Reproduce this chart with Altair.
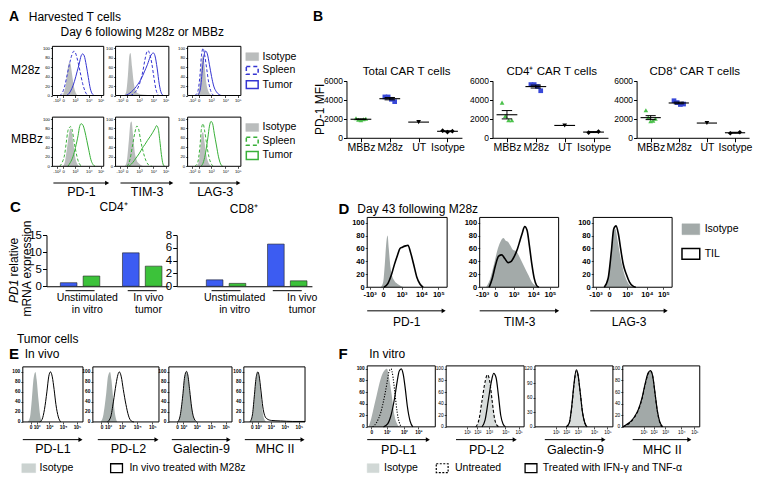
import altair as alt
import numpy as np
import pandas as pd

FONT = "Liberation Sans"
W, H = 748, 469
KX = W / 758.0
KY = H / 477.0


def PX(x):
    return (x - 4) * KX


def PY(y):
    return (y - 4) * KY


ONE = pd.DataFrame({"k": [0]})
LAYERS = []

# ---------------- colours ----------------
BLUE_LINE = "#3535d2"
GREEN_LINE = "#38b038"
BAR_BLUE = "#3c5cf2"
BAR_GREEN = "#3cc23a"
PT_BLUE = "#3848d8"
PT_GREEN = "#4cc24c"
GRAY_A = "#babdbd"
GRAY_D = "#a3aaa9"
GRAY_E = "#a9b1af"
GRAY_F1 = "#a8aead"
GRAY_FL = "#d9dddc"
GRAY_F4 = "#a2a9a8"

# ---------------- data: panel A (x = % of plot width, y = % of max) ----------------
A_M28Z_PD1_ISO = [(18, 0), (22, 6), (26, 22), (29, 50), (31, 64), (33, 70), (35, 68), (37, 55), (40, 32), (43, 14), (46, 5), (50, 0)]
A_M28Z_PD1_SPL = [(14, 0), (19, 5), (24, 20), (29, 45), (34, 70), (38, 86), (42, 94), (45, 90), (49, 75), (54, 50), (59, 25), (64, 8), (69, 0)]
A_M28Z_PD1_TUM = [(28, 0), (33, 5), (38, 15), (43, 30), (48, 50), (52, 66), (56, 84), (59, 88), (62, 84), (66, 64), (70, 38), (74, 14), (78, 3), (82, 0)]
A_M28Z_TIM_ISO = [(16, 0), (20, 8), (23, 40), (26, 85), (28, 90), (31, 60), (34, 28), (38, 10), (43, 4), (50, 2), (60, 1), (70, 0)]
A_M28Z_TIM_SPL = [(28, 0), (34, 4), (40, 12), (46, 28), (51, 50), (55, 75), (58, 90), (61, 95), (64, 88), (68, 68), (72, 38), (76, 12), (81, 0)]
A_M28Z_TIM_TUM = [(18, 0), (24, 3), (30, 8), (36, 15), (42, 24), (48, 35), (54, 50), (60, 66), (65, 82), (68, 88), (71, 90), (74, 84), (78, 58), (82, 24), (86, 5), (90, 0)]
A_M28Z_LAG_ISO = [(17, 0), (21, 10), (24, 42), (27, 78), (29, 85), (32, 62), (35, 28), (39, 9), (43, 2), (48, 0)]
A_M28Z_LAG_SPL = [(14, 0), (19, 8), (23, 40), (26, 84), (29, 100), (32, 86), (36, 55), (40, 25), (44, 8), (49, 0)]
A_M28Z_LAG_TUM = [(19, 0), (24, 14), (28, 58), (31, 86), (34, 94), (37, 88), (41, 65), (45, 40), (49, 20), (54, 8), (59, 2), (64, 0)]

A_MBBZ_PD1_ISO = [(20, 0), (24, 8), (28, 35), (32, 66), (35, 80), (38, 72), (41, 48), (44, 22), (48, 6), (53, 0)]
A_MBBZ_PD1_SPL = [(14, 0), (19, 8), (24, 26), (27, 50), (30, 74), (33, 82), (36, 84), (39, 74), (42, 54), (46, 30), (50, 12), (54, 3), (59, 0)]
A_MBBZ_PD1_TUM = [(30, 0), (35, 8), (40, 20), (45, 40), (50, 65), (53, 84), (56, 90), (59, 88), (63, 75), (67, 55), (71, 34), (75, 14), (79, 4), (83, 0)]
A_MBBZ_TIM_ISO = [(17, 0), (21, 10), (25, 55), (28, 92), (30, 95), (33, 65), (36, 30), (40, 12), (44, 6), (48, 2), (55, 0)]
A_MBBZ_TIM_SPL = [(22, 0), (27, 14), (32, 45), (36, 70), (40, 85), (43, 80), (47, 55), (52, 30), (57, 12), (62, 3), (68, 0)]
A_MBBZ_TIM_TUM = [(25, 0), (30, 5), (35, 12), (40, 20), (45, 28), (50, 38), (55, 46), (60, 55), (65, 63), (70, 72), (74, 80), (77, 86), (80, 80), (83, 55), (86, 25), (89, 5), (92, 0)]
A_MBBZ_LAG_ISO = [(17, 0), (21, 10), (24, 40), (27, 70), (29, 72), (32, 50), (35, 25), (39, 8), (43, 2), (47, 0)]
A_MBBZ_LAG_SPL = [(14, 0), (19, 8), (23, 40), (26, 80), (29, 90), (32, 75), (36, 45), (40, 20), (44, 6), (49, 0)]
A_MBBZ_LAG_TUM = [(25, 0), (30, 10), (34, 30), (38, 60), (41, 85), (44, 95), (47, 90), (50, 70), (54, 45), (58, 20), (62, 5), (66, 0)]

A_XTICKS = [(8, "-10³"), (21, "0"), (44, "10³"), (71, "10⁴"), (94, "10⁵")]
A_YTICKS = [0, 20, 40, 60, 80, 100]
A_MARKERS = ["PD-1", "TIM-3", "LAG-3"]

# ---------------- data: panel B (PD-1 MFI) ----------------
B_CATS = ["MBBz", "M28z", "UT", "Isotype"]
B_TOTAL_MBBZ = [2050, 1900, 1850, 1950, 2000]
B_TOTAL_M28Z = [4300, 4300, 4050, 3800]
B_TOTAL_UT = [1650]
B_TOTAL_ISO = [750, 600, 700]
B_CD4_MBBZ = [3700, 2300, 1850, 1850]
B_CD4_M28Z = [5600, 5600, 5400, 4950]
B_CD4_UT = [1300]
B_CD4_ISO = [550, 650]
B_CD8_MBBZ = [2900, 2150, 1750, 1800, 2000]
B_CD8_M28Z = [3900, 3700, 3500, 3550]
B_CD8_UT = [1550]
B_CD8_ISO = [480, 580]
B_TITLES = ["Total CAR T cells", "CD4⁺ CAR T cells", "CD8⁺ CAR T cells"]

# ---------------- data: panel C (PD1 relative mRNA expression) ----------------
C_GROUPS = ["Unstimulated in vitro", "In vivo tumor"]
C_SERIES = ["M28z TIL", "MBBz TIL"]
C_CD4_M28Z = [1.05, 9.8]
C_CD4_MBBZ = [3.0, 5.9]
C_CD8_M28Z = [1.0, 6.6]
C_CD8_MBBZ = [0.45, 0.85]

# ---------------- data: panel D ----------------
D_PD1_ISO = [(17, 0), (20, 8), (22, 35), (24, 70), (25.5, 80), (27, 60), (29, 32), (31, 18), (34, 10), (38, 5), (42, 2), (46, 0)]
D_PD1_TIL = [(21, 0), (26, 6), (30, 18), (34, 35), (38, 50), (41, 60), (44, 62), (48, 64), (51, 65), (54, 55), (58, 36), (62, 16), (66, 5), (70, 0)]
D_TIM_ISO = [(8, 0), (13, 12), (18, 35), (23, 60), (27, 72), (30, 76), (33, 72), (36, 70), (39, 64), (42, 58), (46, 56), (50, 48), (54, 38), (58, 28), (62, 18), (66, 8), (70, 3), (74, 0)]
D_TIM_TIL = [(12, 0), (16, 14), (20, 34), (24, 48), (28, 50), (32, 44), (36, 38), (40, 40), (44, 48), (48, 60), (51, 72), (54, 84), (57, 94), (60, 88), (63, 64), (66, 36), (69, 14), (72, 3), (75, 0)]
D_LAG_ISO = [(14, 0), (18, 10), (22, 45), (25, 82), (28, 90), (31, 72), (34, 50), (37, 32), (40, 18), (44, 7), (48, 2), (52, 0)]
D_LAG_TIL = [(14, 0), (19, 14), (23, 55), (26, 90), (29, 95), (32, 82), (35, 58), (38, 36), (42, 20), (46, 8), (50, 2), (54, 0)]
D_XTICKS = [(3, "-10³"), (20, "0"), (43, "10³"), (68, "10⁴"), (89, "10⁵")]
D_YTICKS = [0, 20, 40, 60, 80, 100]

# ---------------- data: panel E ----------------
E_PDL1_ISO = [(8, 0), (12, 10), (15, 45), (18, 88), (21, 100), (23, 85), (26, 45), (29, 12), (32, 0)]
E_PDL1_TRT = [(28, 0), (32, 5), (36, 25), (40, 60), (43, 90), (46, 100), (49, 90), (52, 65), (55, 35), (59, 10), (63, 0)]
E_PDL2_ISO = [(12, 0), (16, 15), (20, 55), (23, 92), (26, 100), (28, 85), (31, 45), (34, 12), (37, 0)]
E_PDL2_TRT = [(22, 0), (27, 10), (31, 40), (35, 75), (38, 95), (40, 100), (43, 90), (46, 65), (50, 35), (54, 12), (58, 2), (62, 0)]
E_GAL_ISO = [(14, 0), (18, 12), (22, 50), (25, 88), (28, 100), (30, 92), (33, 60), (36, 28), (39, 8), (43, 0)]
E_GAL_TRT = [(14, 0), (18, 13), (22, 52), (25, 90), (28, 101), (30, 94), (33, 63), (36, 30), (39, 10), (44, 0)]
E_MHC_ISO = [(10, 0), (14, 12), (17, 45), (20, 85), (23, 100), (25, 88), (28, 52), (31, 18), (34, 4), (37, 0)]
E_MHC_TRT = [(10, 0), (14, 14), (17, 50), (20, 88), (23, 100), (25, 92), (28, 62), (31, 30), (34, 13), (38, 6), (45, 3), (60, 2), (80, 1), (100, 1)]
E_XTICKS = [(13, "0"), (23, "10²"), (44, "10³"), (67, "10⁴"), (90, "10⁵")]
E_YTICKS = [0, 20, 40, 60, 80, 100]
E_MARKERS = ["PD-L1", "PD-L2", "Galectin-9", "MHC II"]

# ---------------- data: panel F ----------------
F_PDL1_ISO = [(2, 0), (6, 15), (10, 35), (14, 55), (18, 75), (22, 90), (26, 98), (29, 100), (32, 85), (36, 55), (40, 20), (44, 5), (48, 0)]
F_PDL1_UNT = [(8, 0), (14, 8), (20, 25), (25, 50), (29, 75), (32, 95), (35, 100), (38, 85), (41, 55), (44, 25), (47, 8), (50, 0)]
F_PDL1_TRT = [(24, 0), (30, 5), (35, 20), (40, 48), (44, 78), (47, 96), (50, 100), (53, 90), (56, 65), (59, 35), (63, 10), (67, 0)]
F_PDL2_ISO = [(38, 0), (42, 10), (46, 40), (50, 75), (53, 88), (56, 80), (59, 50), (62, 20), (65, 5), (68, 0)]
F_PDL2_UNT = [(38, 0), (42, 12), (46, 45), (50, 78), (53, 90), (56, 78), (59, 45), (62, 15), (65, 3), (68, 0)]
F_PDL2_TRT = [(46, 0), (50, 12), (54, 45), (58, 78), (61, 92), (64, 85), (67, 55), (70, 20), (73, 5), (76, 0)]
F_GAL_ISO = [(40, 0), (44, 8), (47, 35), (50, 80), (53, 110), (55, 105), (58, 70), (61, 30), (64, 8), (67, 0)]
F_GAL_UNT = [(40, 0), (44, 8), (47, 38), (50, 85), (53, 115), (55, 108), (58, 72), (61, 30), (64, 8), (67, 0)]
F_GAL_TRT = [(40, 0), (44, 8), (47, 40), (50, 88), (53, 118), (55, 110), (58, 72), (61, 30), (64, 8), (67, 0)]
F_MHC_ISO = [(0, 0), (5, 3), (10, 8), (15, 15), (20, 26), (25, 46), (29, 70), (33, 90), (36, 95), (39, 85), (42, 55), (45, 25), (48, 8), (51, 0)]
F_MHC_UNT = [(0, 0), (5, 3), (10, 8), (15, 16), (20, 28), (25, 48), (29, 72), (33, 92), (36, 96), (39, 86), (42, 56), (45, 26), (48, 8), (51, 0)]
F_MHC_TRT = [(0, 0), (5, 4), (10, 9), (15, 17), (20, 29), (25, 50), (29, 74), (33, 93), (36, 97), (39, 87), (42, 57), (45, 27), (48, 9), (52, 0)]
F1_XTICKS = [(6, "0"), (29, "10¹"), (54, "10²"), (75, "10³")]
F_XTICKS = [(27, "10¹"), (40, "10²"), (55, "10³"), (76, "10⁴"), (93, "10⁵")]
F_YTICKS = [0, 20, 40, 60, 80, 100]
F_GAL_YTICKS = [0, 30, 60, 90, 120]


# ---------------- helpers ----------------
def text(x, y, s, size=12.0, weight="normal", align="left", angle=0, style="normal"):
    LAYERS.append(
        alt.Chart(ONE)
        .mark_text(text=s, font=FONT, fontSize=size, fontWeight=weight, fontStyle=style,
                   align=align, baseline="middle", angle=angle, color="black")
        .encode(x=alt.value(PX(x)), y=alt.value(PY(y)))
    )


def swatch(x0, x1, yc, h, fill="white", stroke="black", dash=None, sw=1.0, fill_opacity=1.0):
    kw = dict(fill=fill, fillOpacity=fill_opacity, stroke=stroke, strokeWidth=sw)
    if dash:
        kw["strokeDash"] = dash
    LAYERS.append(
        alt.Chart(ONE).mark_rect(**kw).encode(
            x=alt.value(PX(x0)), x2=alt.value(PX(x1)),
            y=alt.value(PY(yc - h / 2.0)), y2=alt.value(PY(yc + h / 2.0)))
    )


def arrow(x0, x1, y):
    LAYERS.append(
        alt.Chart(ONE).mark_rule(color="black", strokeWidth=1).encode(
            x=alt.value(PX(x0)), x2=alt.value(PX(x1) - 3), y=alt.value(PY(y)))
    )
    LAYERS.append(
        alt.Chart(ONE).mark_point(shape="triangle-right", filled=True, color="black", size=22, opacity=1).encode(
            x=alt.value(PX(x1) - 2.5), y=alt.value(PY(y)))
    )


def tick_expr(ticks):
    e = "''"
    for v, s in reversed(ticks):
        e = "datum.value == %s ? '%s' : (%s)" % (v, s, e)
    return e


def hist(box, ymax, xticks, yticks, curves, fs=4.5, bold=False):
    x0, y0, x1, y1 = box
    xs = alt.Scale(domain=[0, 100], range=[PX(x0), PX(x1)], nice=False, zero=False)
    ys = alt.Scale(domain=[0, ymax], range=[PY(y1), PY(y0)], nice=False, zero=False)
    for c in curves:
        df = pd.DataFrame(c["pts"], columns=["x", "y"])
        if c["kind"] == "area":
            m = alt.Chart(df).mark_area(color=c["color"], opacity=1, interpolate="monotone")
        else:
            kw = dict(color=c["color"], strokeWidth=c.get("w", 1.0), interpolate="monotone")
            if c.get("dash"):
                kw["strokeDash"] = c["dash"]
            m = alt.Chart(df).mark_line(**kw)
        LAYERS.append(m.encode(x=alt.X("x:Q", scale=xs, axis=None),
                               y=alt.Y("y:Q", scale=ys, axis=None)))
    weight = "bold" if bold else "normal"
    xaxis = alt.Axis(orient="bottom", offset=PY(y1) - H, values=[v for v, _ in xticks],
                     labelExpr=tick_expr(xticks), title=None, grid=False, domain=False,
                     tickSize=2, tickWidth=0.7, tickColor="black", labelColor="black",
                     labelFont=FONT, labelFontSize=fs, labelFontWeight=weight,
                     labelPadding=1, labelOverlap=False, labelFlush=False)
    yaxis = alt.Axis(orient="left", offset=-PX(x0), values=yticks, title=None, grid=False,
                     domain=False, tickSize=2, tickWidth=0.7, tickColor="black",
                     labelColor="black", labelFont=FONT, labelFontSize=fs,
                     labelFontWeight=weight, labelPadding=1, labelOverlap=False,
                     labelFlush=False, format="d")
    fr = pd.DataFrame({"a": [0], "b": [100], "c": [0], "d": [ymax]})
    LAYERS.append(
        alt.Chart(fr).mark_rect(fill="white", fillOpacity=0, stroke="black", strokeWidth=1).encode(
            x=alt.X("a:Q", scale=xs, axis=xaxis), x2="b",
            y=alt.Y("c:Q", scale=ys, axis=yaxis), y2="d")
    )


def A_(pts):
    return {"kind": "area", "pts": pts, "color": GRAY_A}


def L_(pts, color, dash=None, w=1.0):
    return {"kind": "line", "pts": pts, "color": color, "dash": dash, "w": w}


# ================= Panel A =================
text(5, 13, "A", size=14, weight="bold")
text(25, 13, "Harvested T cells", size=12)
text(140, 28, "Day 6 following M28z or MBBz", size=12, align="center")
text(7, 67, "M28z", size=12)
text(7, 137, "MBBz", size=12)

A_COLS = [(49, 101), (113, 167), (186, 240)]
A_ROWS = [(43, 93), (115, 165)]
A_DATA = [
    [(A_M28Z_PD1_ISO, A_M28Z_PD1_SPL, A_M28Z_PD1_TUM),
     (A_M28Z_TIM_ISO, A_M28Z_TIM_SPL, A_M28Z_TIM_TUM),
     (A_M28Z_LAG_ISO, A_M28Z_LAG_SPL, A_M28Z_LAG_TUM)],
    [(A_MBBZ_PD1_ISO, A_MBBZ_PD1_SPL, A_MBBZ_PD1_TUM),
     (A_MBBZ_TIM_ISO, A_MBBZ_TIM_SPL, A_MBBZ_TIM_TUM),
     (A_MBBZ_LAG_ISO, A_MBBZ_LAG_SPL, A_MBBZ_LAG_TUM)],
]
for r, (ry0, ry1) in enumerate(A_ROWS):
    col = BLUE_LINE if r == 0 else GREEN_LINE
    for c, (cx0, cx1) in enumerate(A_COLS):
        iso, spl, tum = A_DATA[r][c]
        hist((cx0, ry0, cx1, ry1), 104, A_XTICKS, A_YTICKS,
             [A_(iso), L_(spl, col, [3, 2]), L_(tum, col)], fs=4.2)
    yy = [ry0 + 10.5, ry0 + 24.5, ry0 + 39]
    swatch(245, 258, yy[0], 8, fill=GRAY_A, stroke=GRAY_A, sw=0.5)
    swatch(245.5, 257.5, yy[1], 8, fill="white", stroke=col, dash=[4, 3], sw=1.5)
    swatch(245.5, 257.5, yy[2], 8, fill="white", stroke=col, sw=1.5)
    for t, y in zip(["Isotype", "Spleen", "Tumor"], yy):
        text(262, y, t, size=10.5)

for (ax0, ax1), lab in zip([(50, 107), (118, 172), (188, 240)], A_MARKERS):
    arrow(ax0, ax1, 182)
    text((ax0 + ax1) / 2.0, 191, lab, size=12.5, align="center")

# ================= Panel B =================
text(313, 13, "B", size=14, weight="bold")
text(320, 107, "PD-1 MFI", size=12, align="center", angle=270)

B_SETS = [
    (347, 117, 408, {"MBBz": B_TOTAL_MBBZ, "M28z": B_TOTAL_M28Z, "UT": B_TOTAL_UT, "Isotype": B_TOTAL_ISO}),
    (495, 117, 555, {"MBBz": B_CD4_MBBZ, "M28z": B_CD4_M28Z, "UT": B_CD4_UT, "Isotype": B_CD4_ISO}),
    (641, 114, 700, {"MBBz": B_CD8_MBBZ, "M28z": B_CD8_M28Z, "UT": B_CD8_UT, "Isotype": B_CD8_ISO}),
]
B_STYLE = {"MBBz": ("triangle-up", PT_GREEN), "M28z": ("square", PT_BLUE),
           "UT": ("triangle-down", "black"), "Isotype": ("diamond", "black")}

for (ax, span, tx, dat), title in zip(B_SETS, B_TITLES):
    text(tx, 69, title, size=11.5, align="center")
    xs = alt.Scale(domain=[-0.5, 3.5], range=[PX(ax), PX(ax + span)], nice=False, zero=False)
    ys = alt.Scale(domain=[0, 6000], range=[PY(136), PY(78)], nice=False, zero=False)
    rows, pts = [], []
    for i, c in enumerate(B_CATS):
        v = np.array(dat[c], dtype=float)
        n = len(v)
        mu = float(v.mean())
        se = float(v.std(ddof=1) / np.sqrt(n)) if n > 1 else 0.0
        rows.append(dict(pos=i, l=i - 0.36, r=i + 0.36, m=mu, lo=mu - se, hi=mu + se,
                         cl=i - 0.18, cr=i + 0.18, n=n))
        offs = np.linspace(-0.17, 0.17, n) if n > 1 else np.array([0.0])
        for o, val in zip(offs, v):
            pts.append(dict(cat=c, x=i + float(o), v=float(val)))
    st = pd.DataFrame(rows)
    pt = pd.DataFrame(pts)
    xaxis = alt.Axis(orient="bottom", offset=PY(136) - H, values=[0, 1, 2, 3],
                     labelExpr="['MBBz','M28z','UT','Isotype'][datum.value]", title=None,
                     grid=False, domain=True, domainColor="black", domainWidth=1,
                     tickSize=4, tickColor="black", labelColor="black", labelFont=FONT,
                     labelFontSize=10.5, labelPadding=1, labelOverlap=False, labelFlush=False)
    yaxis = alt.Axis(orient="left", offset=-PX(ax), values=[0, 2000, 4000, 6000], title=None,
                     grid=False, domain=True, domainColor="black", domainWidth=1,
                     tickSize=3, tickColor="black", labelColor="black", labelFont=FONT,
                     labelFontSize=8.5, labelPadding=1, labelOverlap=False, labelFlush=False,
                     format="d")
    for c in B_CATS:
        shape, colr = B_STYLE[c]
        LAYERS.append(
            alt.Chart(pt[pt.cat == c]).mark_point(shape=shape, filled=True, color=colr, size=22, opacity=1)
            .encode(x=alt.X("x:Q", scale=xs, axis=None), y=alt.Y("v:Q", scale=ys, axis=None))
        )
    LAYERS.append(
        alt.Chart(st).mark_rule(color="black", strokeWidth=1.1).encode(
            x=alt.X("l:Q", scale=xs, axis=xaxis), x2="r", y=alt.Y("m:Q", scale=ys, axis=yaxis))
    )
    se_df = st[st.n > 1]
    LAYERS.append(
        alt.Chart(se_df).mark_rule(color="black", strokeWidth=1).encode(
            x=alt.X("pos:Q", scale=xs, axis=None), y=alt.Y("lo:Q", scale=ys, axis=None), y2="hi")
    )
    for f in ["lo", "hi"]:
        LAYERS.append(
            alt.Chart(se_df).mark_rule(color="black", strokeWidth=1).encode(
                x=alt.X("cl:Q", scale=xs, axis=None), x2="cr", y=alt.Y(f + ":Q", scale=ys, axis=None))
        )

# ================= Panel C =================
text(6, 206, "C", size=15, weight="bold")
text(111, 206, "CD4⁺", size=12, align="center")
text(243, 208, "CD8⁺", size=12, align="center")
text(10, 304, "PD1", size=12, angle=270, style="italic")
text(10, 277, "relative", size=12, angle=270)
text(23, 269, "mRNA expression", size=12, angle=270, align="center")

C_SETS = [
    (43, 167, 15, [0, 5, 10, 15], C_CD4_M28Z, C_CD4_MBBZ, 0.365, 0.167, 0.667, False),
    (175, 312, 8, [0, 2, 4, 6, 8], C_CD8_M28Z, C_CD8_MBBZ, 0.355, 0.282, 0.857, True),
]
for ax, ax_end, ymax, yv, m28, mbb, pin, pout, algn, show_leg in C_SETS:
    xs = alt.Scale(domain=C_GROUPS, range=[PX(ax), PX(ax_end)], paddingInner=pin,
                   paddingOuter=pout, align=algn)
    ys = alt.Scale(domain=[0, ymax], range=[PY(287), PY(235)], nice=False, zero=True)
    df = pd.DataFrame({"g": C_GROUPS * 2,
                       "s": [C_SERIES[0]] * 2 + [C_SERIES[1]] * 2,
                       "v": list(m28) + list(mbb)})
    xaxis = alt.Axis(orient="bottom", offset=PY(287) - H, title=None, grid=False, domain=True,
                     domainColor="black", domainWidth=1, ticks=False, labels=False)
    yaxis = alt.Axis(orient="left", offset=-PX(ax), values=yv, title=None, grid=False,
                     domain=True, domainColor="black", domainWidth=1, tickSize=4,
                     tickColor="black", labelColor="black", labelFont=FONT, labelFontSize=11.5,
                     labelPadding=1, labelOverlap=False, labelFlush=False, format="d")
    if show_leg:
        leg = alt.Legend(orient="none", legendX=PX(266), legendY=PY(209), title=None,
                         symbolType="M-1.5,-1L1.5,-1L1.5,1L-1.5,1Z", symbolSize=100,
                         symbolStrokeColor="black", symbolStrokeWidth=0.7, symbolOpacity=1,
                         labelFont=FONT, labelFontSize=10.5, labelColor="black",
                         rowPadding=2, labelOffset=3)
    else:
        leg = None
    LAYERS.append(
        alt.Chart(df).mark_bar(stroke="#222222", strokeWidth=0.6, opacity=1).encode(
            x=alt.X("g:N", scale=xs, axis=xaxis, sort=C_GROUPS),
            xOffset=alt.XOffset("s:N", scale=alt.Scale(domain=C_SERIES, paddingInner=0.27, paddingOuter=0), sort=C_SERIES),
            y=alt.Y("v:Q", scale=ys, axis=yaxis),
            color=alt.Color("s:N", scale=alt.Scale(domain=C_SERIES, range=[BAR_BLUE, BAR_GREEN]), legend=leg),
        )
    )
    lab = pd.DataFrame({"g": C_GROUPS, "l1": ["Unstimulated", "In vivo"], "l2": ["in vitro", "tumor"]})
    LAYERS.append(
        alt.Chart(lab).mark_tick(orient="horizontal", size=29, thickness=1, color="black", opacity=1).encode(
            x=alt.X("g:N", scale=xs, axis=None, sort=C_GROUPS), y=alt.value(PY(291.5)))
    )
    for fld, yy in [("l1", 299), ("l2", 311)]:
        LAYERS.append(
            alt.Chart(lab).mark_text(font=FONT, fontSize=10.5, color="black", baseline="middle", align="center").encode(
                x=alt.X("g:N", scale=xs, axis=None, sort=C_GROUPS), y=alt.value(PY(yy)), text=fld + ":N")
        )

# ================= Panel D =================
text(339, 208, "D", size=15, weight="bold")
text(358, 208, "Day 43 following M28z", size=12)
D_BOXES = [(368, 217, 449, 288), (482, 217, 562, 288), (597, 217, 677, 288)]
D_DATA = [(D_PD1_ISO, D_PD1_TIL), (D_TIM_ISO, D_TIM_TIL), (D_LAG_ISO, D_LAG_TIL)]
for bx, (iso, til) in zip(D_BOXES, D_DATA):
    hist(bx, 108, D_XTICKS, D_YTICKS,
         [{"kind": "area", "pts": iso, "color": GRAY_D}, L_(til, "black", None, 1.6)], fs=7.5, bold=True)
for (ax0, ax1), lab in zip([(368, 448), (482, 563), (594, 673)], A_MARKERS):
    arrow(ax0, ax1, 312)
    text((ax0 + ax1) / 2.0, 323, lab, size=12, align="center")
swatch(687, 705, 229, 11, fill=GRAY_D, stroke=GRAY_D, sw=0.5)
text(710, 229, "Isotype", size=10.5)
swatch(687, 705, 254, 11, fill="white", stroke="black", sw=1.5)
text(710, 254, "TIL", size=10.5)

# ================= Panel E =================
text(13, 341, "Tumor cells", size=12)
text(5, 356, "E", size=15, weight="bold")
text(21, 356, "In vivo", size=12)
E_BOXES = [(19, 369, 80, 425), (90, 369, 157, 425), (167, 369, 231, 425), (243, 369, 305, 425)]
E_DATA = [(E_PDL1_ISO, E_PDL1_TRT), (E_PDL2_ISO, E_PDL2_TRT), (E_GAL_ISO, E_GAL_TRT), (E_MHC_ISO, E_MHC_TRT)]
for bx, (iso, trt) in zip(E_BOXES, E_DATA):
    hist(bx, 110, E_XTICKS, E_YTICKS,
         [{"kind": "area", "pts": iso, "color": GRAY_E}, L_(trt, "black", None, 1.0)], fs=4.8, bold=True)
for (ax0, ax1), lab in zip([(19, 80), (95, 157), (170, 230), (244, 305)], E_MARKERS):
    arrow(ax0, ax1, 443)
    text((ax0 + ax1) / 2.0, 453, lab, size=12.5, align="center")
swatch(18, 32, 472, 9, fill="#cbd2d0", stroke="#cbd2d0", sw=0.5)
text(36, 472, "Isotype", size=10.5)
swatch(108, 120, 472, 9, fill="white", stroke="black", sw=1.3)
text(127, 472, "In vivo treated with M28z", size=10.5)

# ================= Panel F =================
text(339, 356, "F", size=15, weight="bold")
text(370, 356, "In vitro", size=12)
F_BOXES = [(368, 368, 437, 430), (448, 368, 527, 430), (538, 368, 617, 430), (627, 368, 705, 430)]
F_SPECS = [
    (105, F1_XTICKS, F_YTICKS, GRAY_F1, F_PDL1_ISO, F_PDL1_UNT, F_PDL1_TRT, [1.2, 1.5], True),
    (105, F_XTICKS, F_YTICKS, GRAY_FL, F_PDL2_ISO, F_PDL2_UNT, F_PDL2_TRT, [3, 2], False),
    (126, F_XTICKS, F_GAL_YTICKS, GRAY_FL, F_GAL_ISO, F_GAL_UNT, F_GAL_TRT, [3, 2], False),
    (105, F_XTICKS, F_YTICKS, GRAY_F4, F_MHC_ISO, F_MHC_UNT, F_MHC_TRT, [3, 2], False),
]
for bx, (ymax, xt, yt, gcol, iso, unt, trt, dsh, bld) in zip(F_BOXES, F_SPECS):
    hist(bx, ymax, xt, yt,
         [{"kind": "area", "pts": iso, "color": gcol}, L_(unt, "black", dsh, 1.1), L_(trt, "black", None, 1.2)],
         fs=4.8, bold=bld)
for (ax0, ax1), lab in zip([(368, 432), (458, 520), (548, 610), (637, 697)], E_MARKERS):
    arrow(ax0, ax1, 443)
    text((ax0 + ax1) / 2.0, 454, lab, size=12.5, align="center")
swatch(368, 380, 472, 9, fill="#d1d8d6", stroke="#d1d8d6", sw=0.5)
text(385, 472, "Isotype", size=10.5)
swatch(438, 450, 472, 9, fill="white", stroke="black", dash=[2, 1.5], sw=1.2)
text(457, 472, "Untreated", size=10.5)
swatch(528, 540, 472, 9, fill="white", stroke="black", sw=1.3)
text(546, 472, "Treated with IFN-γ and TNF-α", size=10.5)

chart = (
    alt.layer(*LAYERS)
    .resolve_scale(x="independent", y="independent", xOffset="independent")
    .properties(width=W, height=H, padding=0, background="white",
                autosize=alt.AutoSizeParams(type="none"))
    .configure_view(strokeWidth=0)
)
chart.save("out.html", embed_options={"renderer": "svg", "actions": False})
